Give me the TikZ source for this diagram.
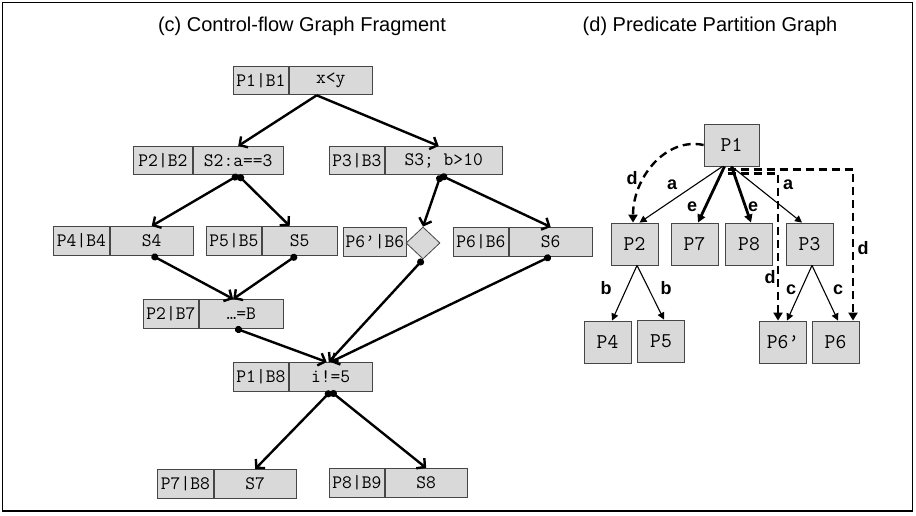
\documentclass[tikz,border=0pt]{standalone}
\usepackage{fontspec}
\setmainfont{Liberation Sans}
\usepackage{xcolor}
\usetikzlibrary{arrows.meta,shapes.geometric}
\definecolor{boxfill}{RGB}{217,217,217}
\definecolor{boxline}{RGB}{70,70,70}

\begin{document}
\begin{tikzpicture}[
    x = 1pt, y = -1pt,
    cell/.style  = {draw=boxline, fill=boxfill, line width=.8pt, inner sep=0pt,
                    minimum height=28.5, anchor=north west,
                    font=\ttfamily\fontsize{19}{19}\selectfont},
    part/.style  = {draw=boxline, fill=boxfill, line width=.8pt, inner sep=0pt,
                    minimum width=47, minimum height=42,
                    font=\ttfamily\fontsize{21}{21}\selectfont},
    title/.style = {font=\fontsize{20}{20}\selectfont, inner sep=0pt},
    lbl/.style   = {font=\bfseries\fontsize{18}{18}\selectfont, inner sep=0pt},
    flow0/.style = {line width=2.4pt, -{Straight Barb[length=6pt,width=13pt]}},
    flow/.style  = {line width=2.4pt, {Circle[length=7pt]}-{Straight Barb[length=6pt,width=13pt]}},
    thin/.style  = {line width=1.1pt, -{Triangle[length=7pt,width=7pt]}},
    thick/.style = {line width=2.8pt, -{Triangle[length=8pt,width=8pt]}},
    dsh/.style   = {line width=2.4pt, dash pattern=on 8pt off 5pt,
                    -{Triangle[length=8pt,width=9pt]}}
  ]
\useasboundingbox (0,0) rectangle (916,516);
\draw[line width=1.5pt] (2.5,2.5) rectangle (912.5,511);

% titles
\node[title] (ttlc) at (302,26) {(c) Control-flow Graph Fragment};
\node[title] (ttld) at (710,26) {(d) Predicate Partition Graph};

% (c) control-flow graph fragment
\node[cell, minimum width=55] (pb1) at (233,66) {P1|B1};
\node[cell, minimum width=83] (st1) at (pb1.north east) {x<y};
\node[cell, minimum width=59] (pb2) at (133,146) {P2|B2};
\node[cell, minimum width=90] (st2) at (pb2.north east) {S2:a==3};
\node[cell, minimum width=55] (pb3) at (329,146) {P3|B3};
\node[cell, minimum width=117] (st3) at (pb3.north east) {S3; b>10};
\node[cell, minimum width=56] (pb4) at (53,226) {P4|B4};
\node[cell, minimum width=83] (st4) at (pb4.north east) {S4};
\node[cell, minimum width=55] (pb5) at (206,226) {P5|B5};
\node[cell, minimum width=75] (st5) at (pb5.north east) {S5};
\node[cell, minimum width=63] (pb6p) at (343,227) {P6’|B6};
\node[diamond, aspect=1, draw=boxline, fill=boxfill, line width=.8pt,
      inner sep=0pt, minimum width=34, minimum height=32] (dia) at (423,243) {};
\node[cell, minimum width=55] (pb6) at (453,227) {P6|B6};
\node[cell, minimum width=83] (st6) at (pb6.north east) {S6};
\node[cell, minimum width=55] (pb7) at (143,299) {P2|B7};
\node[cell, minimum width=84] (st7) at (pb7.north east) {…=B};
\node[cell, minimum width=55] (pb8) at (233,362) {P1|B8};
\node[cell, minimum width=83] (st8) at (pb8.north east) {i!=5};
\node[cell, minimum width=56] (pb9) at (157,469) {P7|B8};
\node[cell, minimum width=82] (st9) at (pb9.north east) {S7};
\node[cell, minimum width=55] (pb10) at (329,468) {P8|B9};
\node[cell, minimum width=82] (st10) at (pb10.north east) {S8};

\draw[flow0] ([xshift=-14pt]st1.south) -- (st2.north);
\draw[flow0] ([xshift=-14pt]st1.south) -- ([xshift=-5pt]st3.north);
\draw[flow] (st2.south) -- (st4.north);
\draw[flow] (st2.south) -- ([xshift=-10pt]st5.north);
\draw[flow] ([xshift=-3pt]st3.south) -- (dia.north);
\draw[flow] ([xshift=-3pt]st3.south) -- (st6.north);
\draw[flow] (st4.south) -- ([xshift=-8pt]st7.north);
\draw[flow] ([xshift=-3pt]st5.south) -- ([xshift=-8pt]st7.north);
\draw[flow] (dia.south) -- ([xshift=-2pt]st8.north);
\draw[flow] (st6.south) -- (st8.north);
\draw[flow] ([xshift=-6pt]st7.south) -- ([xshift=-4pt]st8.north);
\draw[flow] (st8.south) -- (st9.north);
\draw[flow] (st8.south) -- (st10.north);

% (d) predicate partition graph
\node[part, minimum width=55] (q1) at (731.5,145) {P1};
\node[part] (q2) at (634.5,244) {P2};
\node[part] (q7) at (694.5,244) {P7};
\node[part] (q8) at (749,244) {P8};
\node[part] (q3) at (809.5,244) {P3};
\node[part] (q4) at (607.5,342) {P4};
\node[part] (q5) at (661,341) {P5};
\node[part] (q6p) at (783,342) {P6’};
\node[part] (q6) at (835.5,342) {P6};

\draw[thin] ([xshift=-9pt]q1.south) -- ([xshift=5pt]q2.north);
\draw[thick] ([xshift=-7pt]q1.south) -- ([xshift=3.5pt]q7.north);
\draw[thick] (q1.south) -- ([xshift=2pt]q8.north);
\draw[thin] (q1.south) -- ([xshift=-7.5pt]q3.north);
\draw[dsh] (q1.west) .. controls +(-38,-8) and +(0,-45) .. ([xshift=-1.5pt]q2.north);
\draw[dsh] ([xshift=-4pt,yshift=-7pt]q1.south) -| ([xshift=-5pt]q6p.north);
\draw[dsh] ([xshift=-4pt,yshift=-3pt]q1.south) -| ([xshift=17.5pt]q6.north);
\draw[thin] ([xshift=2.5pt]q2.south) -- ([xshift=4.5pt]q4.north);
\draw[thin] ([xshift=2.5pt]q2.south) -- ([xshift=3pt]q5.north);
\draw[thin] ([xshift=2.5pt]q3.south) -- ([xshift=4pt]q6p.north);
\draw[thin] ([xshift=2.5pt]q3.south) -- ([xshift=2.5pt]q6.north);

\node[lbl] (ld1) at (632,178) {d};
\node[lbl] (la1) at (672,185) {a};
\node[lbl] (le1) at (692,207) {e};
\node[lbl] (le2) at (753,207) {e};
\node[lbl] (la2) at (788,185) {a};
\node[lbl] (ld2) at (770,277) {d};
\node[lbl] (ld3) at (863,248) {d};
\node[lbl] (lb1) at (606,288) {b};
\node[lbl] (lb2) at (666,288) {b};
\node[lbl] (lc1) at (791,290) {c};
\node[lbl] (lc2) at (838,290) {c};
\end{tikzpicture}
\end{document}
